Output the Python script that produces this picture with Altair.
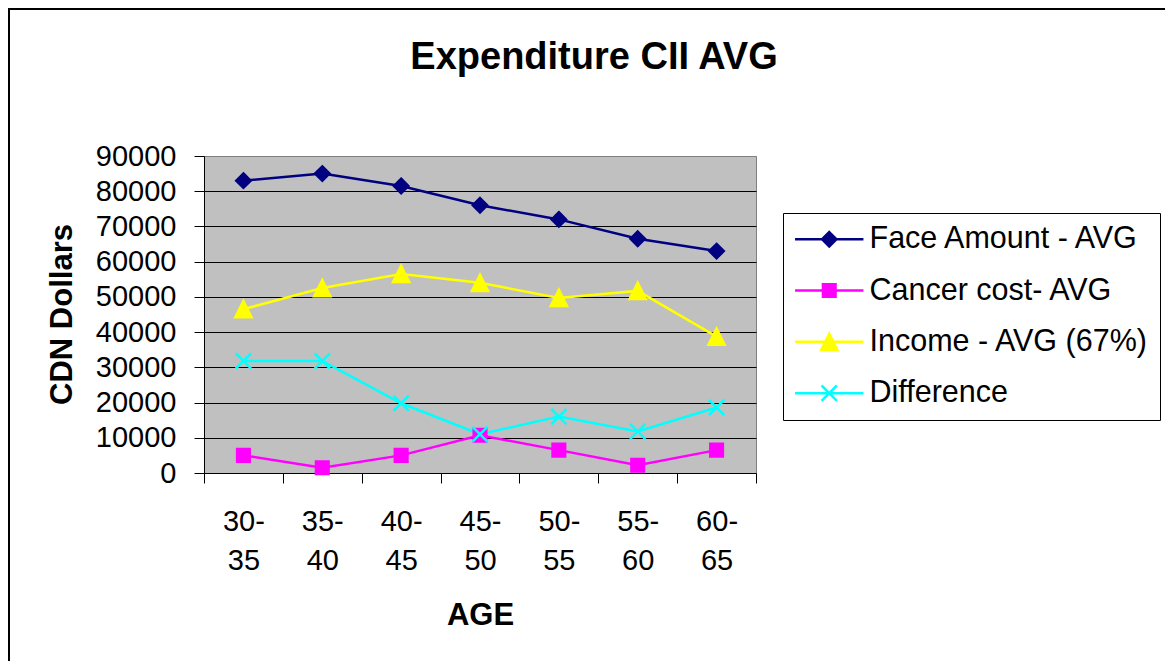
import altair as alt
import pandas as pd

ages = ["30-35", "35-40", "40-45", "45-50", "50-55", "55-60", "60-65"]
series_names = ["Face Amount - AVG", "Cancer cost- AVG", "Income - AVG (67%)", "Difference"]
face = [83000, 85000, 81500, 76000, 72000, 66500, 63000]
cancer = [5000, 1500, 5000, 10700, 6500, 2200, 6500]
income = [46500, 52500, 56500, 54000, 49700, 51700, 38700]
difference = [31800, 31800, 19800, 11000, 16000, 11800, 18600]
colors = ["#000080", "#FF00FF", "#FFFF00", "#00FFFF"]
y_ticks = [0, 10000, 20000, 30000, 40000, 50000, 60000, 70000, 80000, 90000]

rows = []
for name, vals in zip(series_names, [face, cancer, income, difference]):
    for a, v in zip(ages, vals):
        rows.append({"age": a, "value": v, "series": name})
df = pd.DataFrame(rows)

FONT = "Liberation Sans"

shape_paths = [
    "M0,-0.8L0.8,0L0,0.8L-0.8,0Z",
    "M-0.7,-0.7L0.7,-0.7L0.7,0.7L-0.7,0.7Z",
    "M0,-0.9L0.9,0.9L-0.9,0.9Z",
    "M-0.85,-0.85L0.85,0.85M-0.85,0.85L0.85,-0.85",
]
legend_line = "M-3.8,0L3.8,0"
legend_shape_expr = (
    f"datum.value === '{series_names[0]}' ? '{legend_line}{shape_paths[0]}' : "
    f"datum.value === '{series_names[1]}' ? '{legend_line}{shape_paths[1]}' : "
    f"datum.value === '{series_names[2]}' ? '{legend_line}{shape_paths[2]}' : "
    f"'{legend_line}{shape_paths[3]}'"
)

color_scale = alt.Scale(domain=series_names, range=colors)
x_enc = alt.X(
    "age:N",
    sort=ages,
    bandPosition=0.5,
    scale=alt.Scale(type="band", paddingInner=0, paddingOuter=0),
    axis=alt.Axis(
        title="AGE",
        titleFont=FONT, titleFontSize=31, titleFontWeight="bold", titleColor="black",
        titleX=276, titleY=142, titleBaseline="middle", titleAlign="center",
        labelFont=FONT, labelFontSize=29, labelColor="black", labelAngle=0,
        labelExpr="datum.label ? [split(datum.label, '-')[0] + '-', split(datum.label, '-')[1]] : ''",
        labelLineHeight=39, labelPadding=24, labelBaseline="top",
        tickBand="extent", tickSize=10, tickColor="black", tickWidth=1,
        domainColor="black", domainWidth=1, grid=False,
    ),
)
y_enc = alt.Y(
    "value:Q",
    scale=alt.Scale(domain=[0, 90000], nice=False, zero=True),
    axis=alt.Axis(
        title="CDN Dollars",
        titleFont=FONT, titleFontSize=31, titleFontWeight="bold", titleColor="black",
        titleX=-142, titleY=158, titleAngle=-90, titleAlign="center", titleBaseline="middle",
        values=y_ticks, format="d",
        labelFont=FONT, labelFontSize=29, labelColor="black", labelPadding=18,
        tickSize=10, tickColor="black", tickWidth=1,
        domainColor="black", domainWidth=1,
        grid=True, gridWidth=1,
        gridColor={"condition": {"test": "datum.value == 90000", "value": "#808080"}, "value": "#000000"},
    ),
)

legend = alt.Legend(
    title=None, orient="none", legendX=579, legendY=57,
    padding=11, symbolSize=324, symbolStrokeWidth=2.5, symbolOffset=20,
    labelOffset=25, labelFont=FONT, labelFontSize=30.5, labelColor="black",
    labelLimit=500, rowPadding=20.3,
    strokeColor="#000000", fillColor="white",
    symbolType={"expr": legend_shape_expr},
    symbolStrokeColor={"expr": "scale('color', datum.value)"},
    symbolFillColor={"expr": "scale('color', datum.value)"},
    symbolOpacity=1,
)

base = alt.Chart(df)
lines = base.mark_line(strokeWidth=2.5).encode(
    x=x_enc, y=y_enc,
    color=alt.Color("series:N", scale=color_scale, sort=series_names, legend=legend),
    detail="series:N",
)

point_layers = []
for name, path in zip(series_names, shape_paths):
    point_layers.append(
        base.transform_filter(alt.datum.series == name)
        .mark_point(filled=True, size=324, strokeWidth=2.5, opacity=1, shape=path)
        .encode(
            x=x_enc, y=y_enc,
            color=alt.Color("series:N", scale=color_scale, sort=series_names, legend=None),
            stroke=alt.Stroke("series:N", scale=color_scale, legend=None),
        )
    )

frame_df = pd.DataFrame({"k": [0]})
frame_left = alt.Chart(frame_df).mark_rule(color="black", strokeWidth=2).encode(
    x=alt.value(-195), y=alt.value(-147), y2=alt.value(520)
)
frame_top = alt.Chart(frame_df).mark_rule(color="black", strokeWidth=2).encode(
    x=alt.value(-196), x2=alt.value(980), y=alt.value(-147)
)

chart = alt.layer(frame_left, frame_top, lines, *point_layers).resolve_scale(
    color="shared"
).properties(
    width=552, height=317,
    background="white",
    autosize=alt.AutoSizeParams(type="none"),
    padding={"left": 196, "top": 148, "right": 409, "bottom": 188},
    title=alt.TitleParams(
        "Expenditure CII AVG", font=FONT, fontSize=38, fontWeight="bold", color="black",
        anchor="middle", dx=114, baseline="alphabetic", offset=-99,
    ),
).configure_view(
    fill="#C0C0C0", stroke="#808080", strokeWidth=1
)

chart.save("out.html", embed_options={"renderer": "svg", "actions": False})
